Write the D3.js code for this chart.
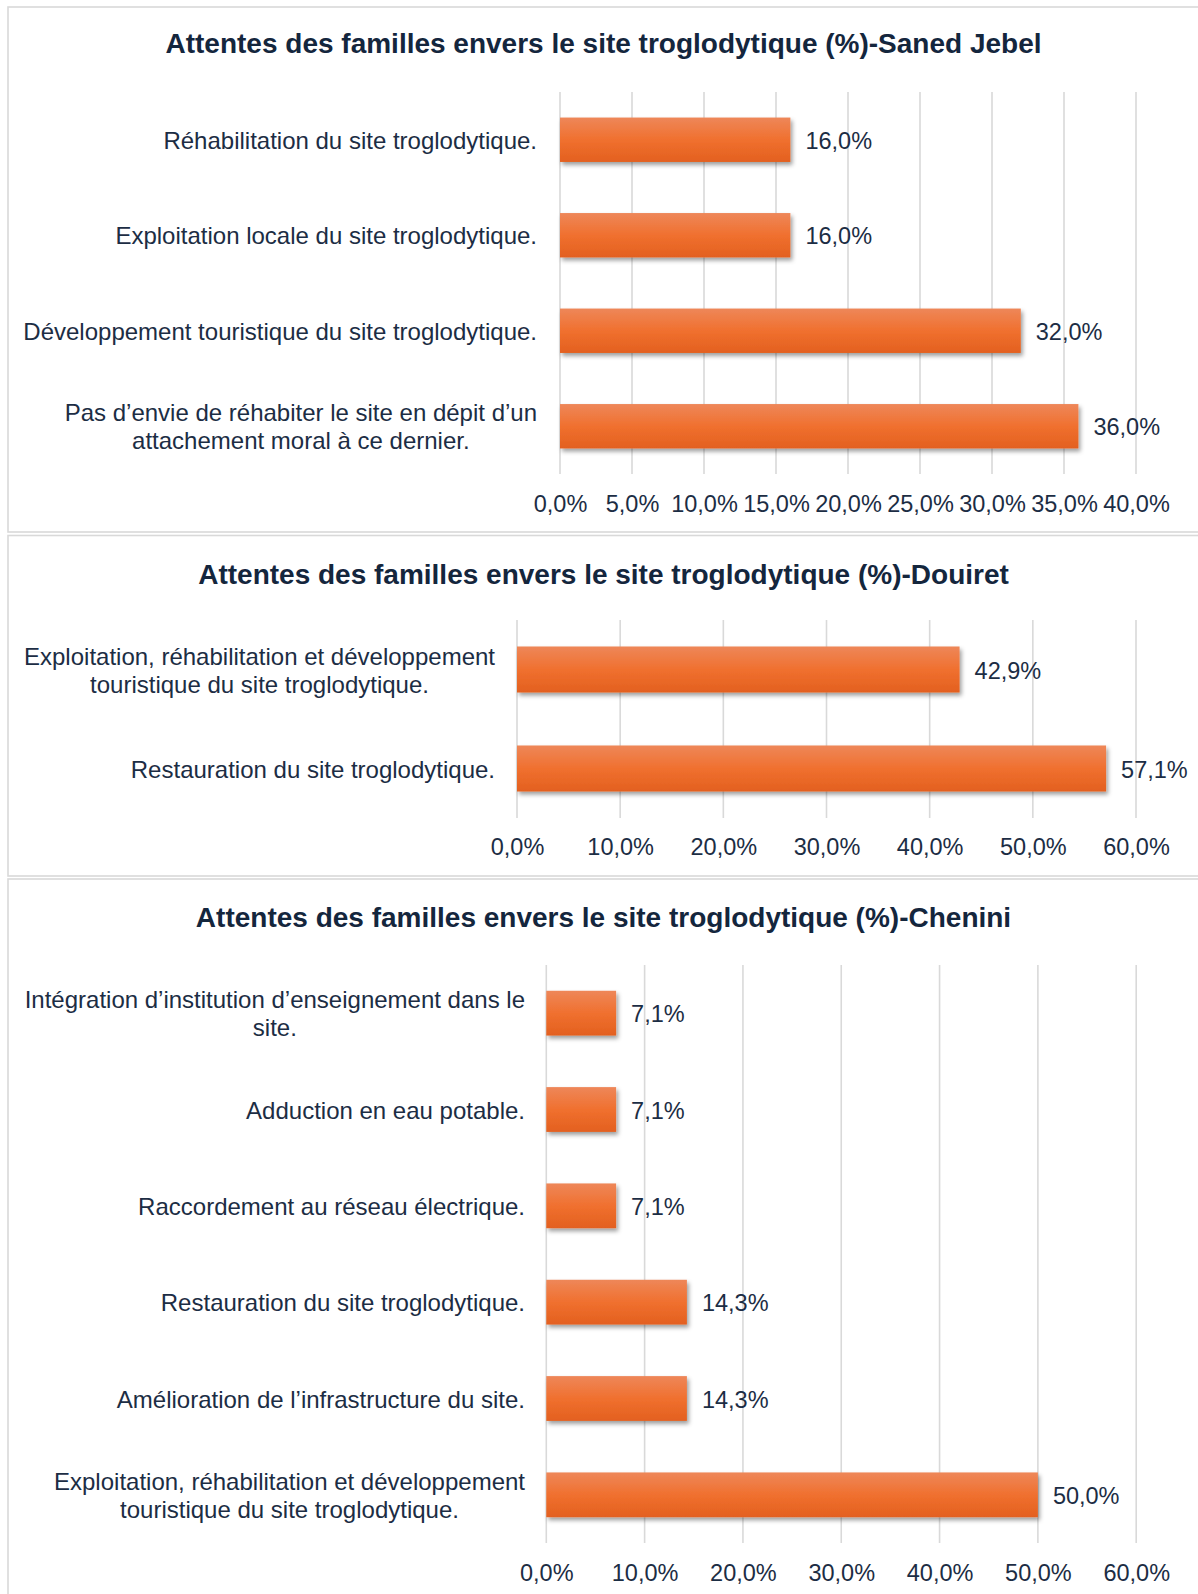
<!DOCTYPE html>
<html>
<head>
<meta charset="utf-8">
<script src="https://cdn.jsdelivr.net/npm/d3@7/dist/d3.min.js"></script>
<style>
  html, body { margin: 0; padding: 0; background: #ffffff; }
  svg { display: block; }
  text { font-family: "Liberation Sans", Arial, sans-serif; }
</style>
</head>
<body>
<svg id="chart" width="1198" height="1594"></svg>
<script>
// ---------------- DATA ----------------
const titles = [
  "Attentes des familles envers le site troglodytique (%)-Saned Jebel",
  "Attentes des familles envers le site troglodytique (%)-Douiret",
  "Attentes des familles envers le site troglodytique (%)-Chenini"
];

const sanedCategories = [
  "Réhabilitation du site troglodytique.",
  "Exploitation locale du site troglodytique.",
  "Développement touristique du site troglodytique.",
  "Pas d’envie de réhabiter le site en dépit d’un\nattachement moral à ce dernier."
];
const sanedValues = [16.0, 16.0, 32.0, 36.0];
const sanedTicks = [0, 5, 10, 15, 20, 25, 30, 35, 40];

const douiretCategories = [
  "Exploitation, réhabilitation et développement\ntouristique du site troglodytique.",
  "Restauration du site troglodytique."
];
const douiretValues = [42.9, 57.1];
const douiretTicks = [0, 10, 20, 30, 40, 50, 60];

const cheniniCategories = [
  "Intégration d’institution d’enseignement dans le\nsite.",
  "Adduction en eau potable.",
  "Raccordement au réseau électrique.",
  "Restauration du site troglodytique.",
  "Amélioration de l’infrastructure du site.",
  "Exploitation, réhabilitation et développement\ntouristique du site troglodytique."
];
const cheniniValues = [7.1, 7.1, 7.1, 14.3, 14.3, 50.0];
const cheniniTicks = [0, 10, 20, 30, 40, 50, 60];

// ---------------- LAYOUT ----------------
const TEXT = "#1c2d44";
const TITLE = "#14263d";
const GRID = "#d9d9d9";
const BORDER = "#d9d9d9";

const panels = [
  { title: titles[0], cats: sanedCategories, vals: sanedValues, ticks: sanedTicks,
    top: 7, bottom: 532, titleY: 43, x0: 560, x1: 1136, y0: 92, y1: 474,
    labelRight: 537, tickY: 503.5 },
  { title: titles[1], cats: douiretCategories, vals: douiretValues, ticks: douiretTicks,
    top: 535.5, bottom: 876, titleY: 574, x0: 517, x1: 1136, y0: 620, y1: 818,
    labelRight: 495, tickY: 846.5 },
  { title: titles[2], cats: cheniniCategories, vals: cheniniValues, ticks: cheniniTicks,
    top: 879, bottom: 1620, titleY: 917, x0: 546.3, x1: 1136.2, y0: 965, y1: 1543,
    labelRight: 525, tickY: 1573 }
];

const locale = d3.formatLocale({ decimal: ",", thousands: " ", grouping: [3], currency: ["", "€"] });
const fmt = v => locale.format(".1f")(v) + "%";

const svg = d3.select("#chart");
const defs = svg.append("defs");

const grad = defs.append("linearGradient")
  .attr("id", "barGrad").attr("x1", 0).attr("y1", 0).attr("x2", 0).attr("y2", 1);
grad.append("stop").attr("offset", "0%").attr("stop-color", "#ee8759");
grad.append("stop").attr("offset", "50%").attr("stop-color", "#f0702f");
grad.append("stop").attr("offset", "100%").attr("stop-color", "#e3601f");

const filt = defs.append("filter").attr("id", "shadow")
  .attr("x", "-10%").attr("y", "-30%").attr("width", "130%").attr("height", "180%");
filt.append("feDropShadow").attr("dx", 2).attr("dy", 3).attr("stdDeviation", 2.2)
  .attr("flood-color", "#000").attr("flood-opacity", 0.38);

panels.forEach(p => {
  const g = svg.append("g");

  // panel frame
  g.append("rect")
    .attr("x", 8).attr("y", p.top)
    .attr("width", 1198 + 20 - 8).attr("height", p.bottom - p.top)
    .attr("fill", "#fff").attr("stroke", BORDER).attr("stroke-width", 1.6);

  // title
  g.append("text")
    .attr("x", 603.5).attr("y", p.titleY)
    .attr("text-anchor", "middle").attr("dominant-baseline", "central")
    .attr("font-size", 28).attr("font-weight", "bold").attr("fill", TITLE)
    .text(p.title);

  const x = d3.scaleLinear()
    .domain([p.ticks[0], p.ticks[p.ticks.length - 1]])
    .range([p.x0, p.x1]);
  const y = d3.scaleBand()
    .domain(p.cats)
    .range([p.y0, p.y1])
    .paddingInner(0.535).paddingOuter(0.2675);

  // gridlines
  g.append("g").selectAll("line").data(p.ticks).join("line")
    .attr("x1", d => x(d)).attr("x2", d => x(d))
    .attr("y1", p.y0).attr("y2", p.y1)
    .attr("stroke", GRID).attr("stroke-width", 1.6);

  // axis tick labels
  const axis = d3.axisBottom(x).tickValues(p.ticks).tickFormat(fmt).tickSize(0).tickPadding(0);
  const ax = g.append("g").attr("transform", `translate(0,${p.tickY})`).call(axis);
  ax.select(".domain").remove();
  ax.selectAll("text")
    .attr("y", 0).attr("dy", null)
    .attr("dominant-baseline", "central")
    .attr("font-size", 23.5).attr("fill", TEXT)
    .style("font-family", '"Liberation Sans", Arial, sans-serif');

  const data = p.cats.map((c, i) => ({ cat: c, val: p.vals[i] }));

  // bars
  g.append("g").selectAll("rect").data(data).join("rect")
    .attr("x", x(0)).attr("y", d => y(d.cat))
    .attr("width", d => x(d.val) - x(0)).attr("height", y.bandwidth())
    .attr("fill", "url(#barGrad)").attr("filter", "url(#shadow)");

  // value labels
  g.append("g").selectAll("text").data(data).join("text")
    .attr("x", d => x(d.val) + 15)
    .attr("y", d => y(d.cat) + y.bandwidth() / 2 + 1)
    .attr("dominant-baseline", "central")
    .attr("font-size", 23.5).attr("fill", TEXT)
    .text(d => fmt(d.val));

  // category labels (multi-line, lines centred, block right-aligned)
  const lineH = 28;
  data.forEach(d => {
    const lines = d.cat.split("\n");
    const cy = y(d.cat) + y.bandwidth() / 2;
    const t = g.append("text")
      .attr("font-size", 24).attr("fill", TEXT)
      .attr("text-anchor", "middle").attr("dominant-baseline", "central");
    const spans = lines.map((ln, i) =>
      t.append("tspan")
        .attr("y", cy + (i - (lines.length - 1) / 2) * lineH)
        .text(ln));
    let maxW = 0;
    spans.forEach(s => { maxW = Math.max(maxW, s.node().getComputedTextLength()); });
    spans.forEach(s => s.attr("x", p.labelRight - maxW / 2));
  });
});
</script>
</body>
</html>
